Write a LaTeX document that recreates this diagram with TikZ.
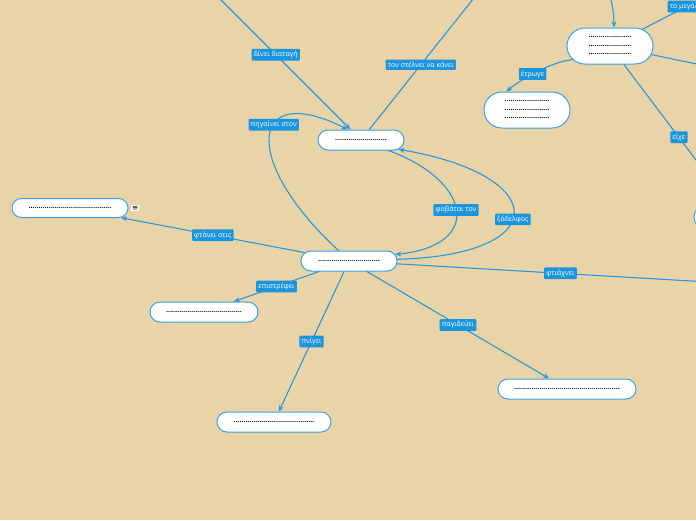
\documentclass[tikz,border=0pt]{standalone}
\usepackage{fontspec}
\setmainfont{Open Sans}
\newfontfamily\symbolfont{DejaVu Sans}
\usetikzlibrary{arrows.meta, positioning, shapes.misc}

\definecolor{bakgrunn}{RGB}{232,212,167}
\definecolor{etikettblaa}{RGB}{27,150,222}
\definecolor{linjeblaa}{RGB}{42,152,222}
\definecolor{kantblaa}{RGB}{60,160,228}

\newcommand\prikker[1]{\makebox[#1]{\xleaders\hbox{.}\hfill}}

\begin{document}
\begin{tikzpicture}[
x = 1pt, y = -1pt,
 boble/.style = {rounded rectangle, draw=kantblaa, fill=white, line width=1pt,
                 minimum height=20pt, inner sep=0pt, align=center,
                 font=\bfseries\fontsize{7}{8.5}\selectfont},
 merke/.style = {fill=etikettblaa, text=white, inner sep=2.2pt, rounded corners=1pt,
                 font=\fontsize{7}{7.5}\selectfont},
  ikon/.style = {fill=white, inner sep=0.8pt, font=\symbolfont\fontsize{7.5}{7.5}\selectfont},
   pil/.style = {linjeblaa, line width=1.1pt, -{Stealth[length=6pt,width=5pt]}},
 linje/.style = {linjeblaa, line width=1.1pt}
                    ]
\useasboundingbox (0,0) rectangle (696,520);
\fill[bakgrunn] (0,0) rectangle (696,520);
\clip (0,0) rectangle (696,520);

%nodes
\node[boble, minimum width=96pt] (sentral) at (349,261) {\prikker{62pt}};
\node[boble, minimum width=86pt] (oppdrag) at (361,140) {\prikker{52pt}};
\node[boble, minimum width=86pt, minimum height=36pt] (kjempe) at (610,46)
     {\prikker{43pt}\\\prikker{43pt}\\\prikker{43pt}};
\node[boble, minimum width=86pt, minimum height=36pt] (bytte) at (527,110)
     {\prikker{45pt}\\\prikker{45pt}\\\prikker{45pt}};
\node[boble, minimum width=116pt, minimum height=19pt] (maal) at (70,208) {\prikker{83pt}};
\node[ikon, right=2.5pt of maal] (notat) {≡};
\node[boble, minimum width=108pt] (retur) at (204,312) {\prikker{76pt}};
\node[boble, minimum width=114pt] (offer) at (274,422) {\prikker{81pt}};
\node[boble, minimum width=138pt] (felle) at (567,389) {\prikker{106pt}};
\node[boble, minimum width=90pt, minimum height=24pt] (eie) at (739,217) {\prikker{60pt}};

% free ends
\coordinate (topp1)  at (201,-20);
\coordinate (topp2)  at (489,-21);
\coordinate (topp3)  at (606,-15);
\coordinate (topp4)  at (730,-16);
\coordinate (hoyre1) at (740,73);
\coordinate (hoyre2) at (760,285);

% edges
\draw[pil] (topp1) edge node[merke] {δίνει διαταγή} (oppdrag)
(oppdrag) edge node[merke, pos=0.43] {τον στέλνει να κάνει} (topp2)
(sentral) edge node[merke] {φτάνει στις} (maal)
(sentral) edge node[merke] {επιστρέφει} (retur)
(sentral) edge node[merke] {πνίγει} (offer)
(sentral) edge node[merke] {παγιδεύει} (felle)
(sentral) edge node[merke, pos=0.45] {φτιάχνει} (hoyre2)
(kjempe) edge node[merke] {το μεγάλο} (topp4)
(kjempe) edge node[merke, pos=0.52] {είχε} (eie);
\draw[linje] (kjempe) -- (hoyre1);

\draw[pil] (sentral.135) .. controls (240,160) and (250,80) .. (oppdrag.142)
     node[merke, pos=0.6] {πηγαίνει στον};
\draw[pil] (oppdrag.-21) .. controls (470,180) and (485,245) .. (sentral.8)
     node[merke, pos=0.5] {φοβάται τον};
\draw[pil] (sentral.2) .. controls (555,255) and (550,175) .. (oppdrag.-14)
     node[merke, pos=0.45] {ξάδελφος};
\draw[pil] (kjempe.200) .. controls (550,62) and (520,80) .. (bytte.138)
     node[merke, pos=0.55] {έτρωγε};
\draw[pil] (topp3) .. controls (612,0) and (614,12) .. (kjempe.78);
    \end{tikzpicture}
\end{document}
